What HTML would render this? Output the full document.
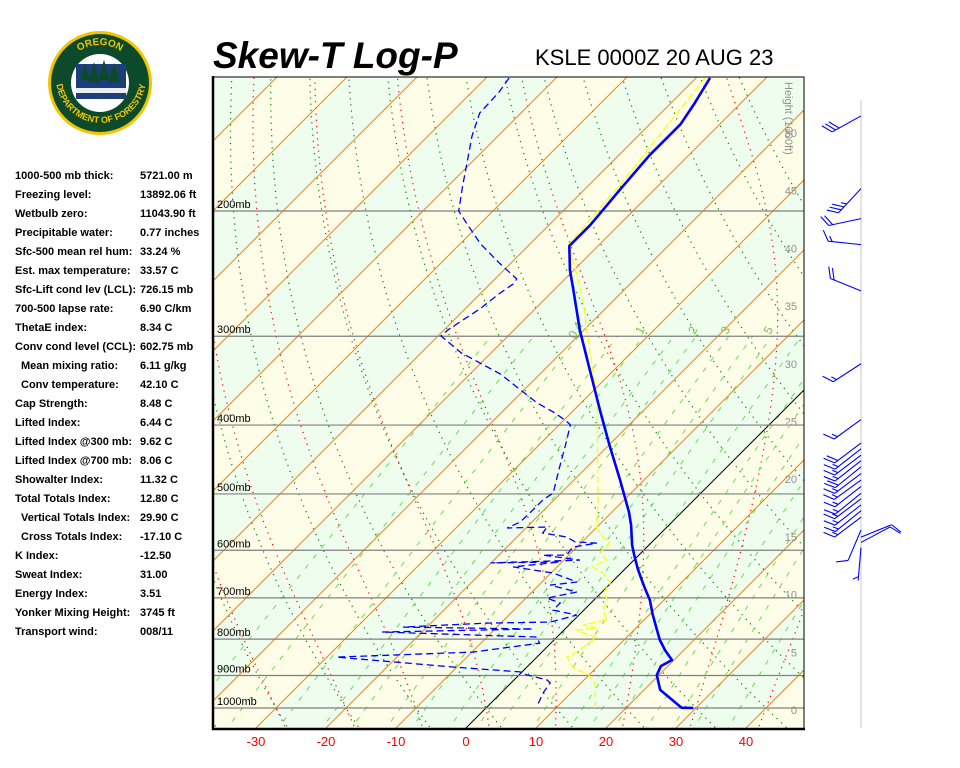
<!DOCTYPE html>
<html><head><meta charset="utf-8">
<style>
html,body{margin:0;padding:0;background:#fff;}
body{width:960px;height:768px;position:relative;overflow:hidden;font-family:"Liberation Sans",Arial,sans-serif;}
#stats{position:absolute;left:0;top:0;}
.row{position:absolute;font-size:11px;font-weight:bold;color:#000;white-space:nowrap;}
.lab{position:absolute;}
.val{position:absolute;left:140px;}
svg{position:absolute;left:0;top:0;}
</style></head>
<body>
<svg id="chart" width="960" height="768" viewBox="0 0 960 768">
  <defs><clipPath id="plotclip"><rect x="213" y="77" width="591" height="652"/></clipPath></defs>
  <g id="logo">
    <circle cx="100" cy="83" r="52" fill="#f2c500"/>
    <circle cx="100" cy="83" r="49" fill="#0d4a2c"/>
    <path id="arcTop" d="M62,83 A38,38 0 0 1 138,83" fill="none"/>
    <path id="arcBot" d="M56,78 A44,44 0 0 0 146,78" fill="none"/>
    <text font-family="Liberation Sans, sans-serif" font-weight="bold" font-size="10" fill="#f2c500"><textPath href="#arcTop" startOffset="50%" text-anchor="middle">OREGON</textPath></text>
    <text font-family="Liberation Sans, sans-serif" font-weight="bold" font-size="9" fill="#f2c500"><textPath href="#arcBot" startOffset="50%" text-anchor="middle">DEPARTMENT OF FORESTRY</textPath></text>
    <circle cx="100" cy="83" r="29" fill="#fff"/>
    <rect x="76" y="64" width="50" height="35" fill="#1d3f78"/>
    <polygon points="80,80 85,64 90,80" fill="#0d4a2c"/>
    <polygon points="88,82 94,62 100,82" fill="#0d4a2c"/>
    <polygon points="98,80 104,60 110,80" fill="#0d4a2c"/>
    <polygon points="108,82 114,63 120,82" fill="#0d4a2c"/>
    <rect x="76" y="88" width="50" height="5" fill="#e8eef4"/>
  </g>
  <text x="213" y="68" font-family="Liberation Sans, sans-serif" font-size="37" font-weight="bold" font-style="italic">Skew-T Log-P</text>
  <text x="535" y="65" font-family="Liberation Sans, sans-serif" font-size="22">KSLE 0000Z 20 AUG 23</text>
  <g id="plot" clip-path="url(#plotclip)"></g>
  <g id="overlay"></g>
</svg>
<div id="stats"></div>
<script>
// ---- data ----
var tempP = [1000,999,943,899,873,856,829,802,777,738,705,682,661,636,609,590,553,530,478,427,381,335,294,258,242,224,209,187,167,151,141,130];
var tempT = [29.6,27.9,22.3,19.7,19.0,19.7,17.3,15.1,13.3,10.4,8.0,5.9,4.0,1.7,-0.7,-2.4,-5.4,-7.6,-13.4,-19.9,-26.3,-33.4,-40.6,-47.3,-50.6,-54.1,-54.1,-54.9,-55.6,-55.6,-56.6,-58.0];
var dewP = [130,136.4,145.6,156.9,167.3,184.5,200,209.9,222.4,236.6,249.3,253.4,261.6,274.7,293.1,299.7,316.6,338.9,372.3,383.3,393.4,399.7,429.5,458.4,498.6,509.7,532,547.7,558.3,556.5,567.3,574.7,583.9,586.2,593.9,609.5,609.5,619.4,625.1,623.2,633.3,645.9,665,671.6,686.8,700.5,711.8,728.3,740.1,757.2,759.5,769.5,774.2,781.9,789.7,794.5,810.6,834.4,847.9,875.6,889.6,898.5,913,922.2,952.2,996.8];
var dewT = [-86.7,-86.1,-85.9,-83.7,-81.4,-77.9,-74.9,-71.4,-67.1,-61.7,-56.9,-56.7,-57.3,-57.9,-59.4,-59.6,-54.3,-45.7,-36.3,-32.7,-29.9,-28.4,-26,-23.9,-21.1,-21.6,-21.6,-21.7,-22.7,-17.1,-16.9,-12.9,-11,-7.7,-10.6,-10.3,-13.7,-7.7,-20.1,-10.3,-16.3,-9.7,-5,-8.4,-3.6,-7,-4.4,-4.4,-0.3,-3.1,-12,-23.4,-4.6,-25.7,-11.7,-2.9,-1.6,-9.9,-28.6,-10.6,-0.3,1.1,4.7,5.6,6,7.1];
var parcelP = [1000,922,899,876,848,829,795,784,777,772,764,752,728,705,689,667,646,633,619,605,586,575,557,510,434,369,314,267,227,223,184,130];
var parcelT = [15.6,12.0,10.0,6.6,4.3,5.1,5.7,3.1,1.9,4.4,2.0,4.7,2.7,2.0,0.3,-0.1,-2.6,-4.9,-3.9,-5.9,-5.9,-7.7,-10,-13.7,-20.9,-28.1,-36.3,-44.4,-53.3,-54.4,-55.6,-58.7];
var windP = [147,186,205,223,259,328,393,424,432,441,449,458,468,478,488,499,508,518,528,539,562,575,585,595];
var windDir = [241,223,258,276,292,237,234,233,232,233,232,231,233,234,232,231,233,232,231,233,203,68,62,185];
var windSpd = [30,35,20,15,20,15,15,20,15,15,15,20,15,15,15,15,15,15,15,15,10,10,10,5];
var isobars = [100,200,300,400,500,600,700,800,900,1000];
var xTickLabels = [-30,-20,-10,0,10,20,30,40];
var heightLabels = [0,5,10,15,20,25,30,35,40,45,50];
var mixRatios = [0.1,0.2,0.4,0.7,1,1.5,2,3,4,5,7,10,12,15,20,25,30,40];
var mixLabelled = [0.4,1,2,3,5];
var statLabels = ["1000-500 mb thick:","Freezing level:","Wetbulb zero:","Precipitable water:","Sfc-500 mean rel hum:","Est. max temperature:","Sfc-Lift cond lev (LCL):","700-500 lapse rate:","ThetaE index:","Conv cond level (CCL):","Mean mixing ratio:","Conv temperature:","Cap Strength:","Lifted Index:","Lifted Index @300 mb:","Lifted Index @700 mb:","Showalter Index:","Total Totals Index:","Vertical Totals Index:","Cross Totals Index:","K Index:","Sweat Index:","Energy Index:","Yonker Mixing Height:","Transport wind:"];
var statValues = ["5721.00 m","13892.06 ft","11043.90 ft","0.77 inches","33.24 %","33.57 C","726.15 mb","6.90 C/km","8.34 C","602.75 mb","6.11 g/kg","42.10 C","8.48 C","6.44 C","9.62 C","8.06 C","11.32 C","12.80 C","29.90 C","-17.10 C","-12.50","31.00","3.51","3745 ft","008/11"];
var statIndented = [10,11,18,19];

// ---- scales ----
function yP(p){ return 708 + 308.8*Math.log(p/1000); }
function xT(T,p){ return 466 + 7*T + (728 - yP(p)); }
function pY(y){ return 1000*Math.exp((y-708)/308.8); }
var NS="http://www.w3.org/2000/svg";
function mk(tag, attrs, parent){ var e=document.createElementNS(NS,tag); for(var k in attrs) e.setAttribute(k,attrs[k]); parent.appendChild(e); return e; }
var plot=document.getElementById('plot'), ov=document.getElementById('overlay');
var pTop=120, pBot=1080;

// background bands
for (var T=-140; T<70; T+=10){
  var k=Math.round(T/10);
  var col = (Math.abs(k)%2===1) ? "#effdef" : "#fefde8";
  var pts=[[xT(T,pTop),yP(pTop)],[xT(T+10,pTop),yP(pTop)],[xT(T+10,pBot),yP(pBot)],[xT(T,pBot),yP(pBot)]];
  var b=mk('polygon',{points:pts.map(function(q){return q.join(',');}).join(' '),fill:col},plot);
  
  
}
// dry adiabats (green dotted)
function polyPts(fn){ var s=[]; for(var p=pBot;p>=pTop;p-=10){ s.push(xT(fn(p),p).toFixed(1)+','+yP(p).toFixed(1)); } return s.join(' '); }
for (var T0=-60; T0<=120; T0+=10){
  var th=T0+273.15;
  var d=mk('polyline',{points:polyPts(function(p){return th*Math.pow(p/1000,0.286)-273.15;}),fill:'none',stroke:'#008000','stroke-width':1.2,'stroke-dasharray':'1.2,5'},plot);
  
  
}
// moist adiabats (red dotted)
function es(Tc){ return 6.112*Math.exp(17.67*Tc/(Tc+243.5)); }
function dTdp(Tc,p){ var T=Tc+273.15, e=es(Tc), rs=0.622*e/(p-e); return (287*T+2.5e6*rs)/(p*(1004+2.5e6*2.5e6*rs*0.622/(287*T*T))); }
for (var M0=-30; M0<=40; M0+=10){
  var seg=[]; var Tc=M0, p=1000;
  var down=[]; var Td=M0;
  for(var pp=1000; pp<pBot; pp+=5){ Td += dTdp(Td,pp)*5; down.push([pp+5,Td]); }
  down.reverse().forEach(function(q){ seg.push(xT(q[1],q[0]).toFixed(1)+','+yP(q[0]).toFixed(1)); });
  seg.push(xT(Tc,p).toFixed(1)+','+yP(p).toFixed(1));
  while(p>pTop){ Tc -= dTdp(Tc,p)*5; p-=5; seg.push(xT(Tc,p).toFixed(1)+','+yP(p).toFixed(1)); }
  var m=mk('polyline',{points:seg.join(' '),fill:'none',stroke:'#ff0000','stroke-width':1.2,'stroke-dasharray':'1.2,5'},plot);
  
  
}
// mixing ratio lines
function tdFromW(w,p){ var e=w*p/(622+w); var l=Math.log(e/6.112); return 243.5*l/(17.67-l); }
mixRatios.forEach(function(w){
  var s=[]; for(var p=pBot;p>=300;p-=10){ s.push(xT(tdFromW(w,p),p).toFixed(1)+','+yP(p).toFixed(1)); }
  var l=mk('polyline',{points:s.join(' '),fill:'none',stroke:'#66dd55','stroke-width':1,'stroke-dasharray':'5,8'},plot);
  
  
});
mixLabelled.forEach(function(w){
  var x=xT(tdFromW(w,300),300), y=yP(300)-4;
  var t=mk('text',{x:x,y:y,'font-size':12,fill:'#66cc44','text-anchor':'middle',transform:'rotate(-60 '+x+' '+y+')'},plot);
  t.textContent=String(w);
  
  
});
// isotherms
for (var T=-140; T<=70; T+=10){
  var il=mk('line',{x1:xT(T,pBot),y1:yP(pBot),x2:xT(T,pTop),y2:yP(pTop),stroke:(T===0?'#000':'#ff8000'),'stroke-width':1},plot);
  
  
}
// isobars
isobars.forEach(function(p){
  var y=yP(p);
  var l=mk('line',{x1:213,y1:y,x2:804,y2:y,stroke:'#808080','stroke-width':1.2},plot);
  
  
  var t=mk('text',{x:217,y:y-3,'font-size':11,fill:'#000','font-family':'Liberation Sans, sans-serif'},plot);
  t.textContent=p+'mb';
  
  
});
// series
function line(P,T){ return P.map(function(p,i){ return xT(T[i],p).toFixed(1)+','+yP(p).toFixed(1); }).join(' '); }
var par=mk('polyline',{points:line(parcelP,parcelT),fill:'none',stroke:'#ffff00','stroke-width':1.3,'stroke-dasharray':'7,3'},plot);


var dw=mk('polyline',{points:line(dewP,dewT),fill:'none',stroke:'#0000ff','stroke-width':1.3,'stroke-dasharray':'7,4'},plot);


var tp=mk('polyline',{points:line(tempP,tempT),fill:'none',stroke:'#0000ff','stroke-width':2.6,'stroke-linejoin':'round'},plot);


// height labels
heightLabels.forEach(function(h){
  var y=710-11.54*h;
  var t=mk('text',{x:797,y:y+4,'font-size':11,fill:'#909090','text-anchor':'end'},ov);
  t.textContent=String(h);
  
  
});
var ht=mk('text',{x:0,y:0,'font-size':11,fill:'#909090',transform:'translate(785,82) rotate(90)'},ov);
ht.textContent='Height (1000ft)';


// frame
var fr=mk('rect',{x:213,y:77,width:591,height:652,fill:'none',stroke:'#000','stroke-width':1},ov);


var l1=mk('line',{x1:213,y1:76,x2:213,y2:730,stroke:'#000','stroke-width':2.5},ov);


var l2=mk('line',{x1:212,y1:729,x2:805,y2:729,stroke:'#000','stroke-width':2.5},ov);


// x tick labels
xTickLabels.forEach(function(T){
  var t=mk('text',{x:xT(T,pY(728)),y:746,'font-size':13,fill:'#ff0000','text-anchor':'middle'},ov);
  t.textContent=String(T);
  
  
});
// wind barbs
var ax=mk('line',{x1:861,y1:100,x2:861,y2:728,stroke:'#e4e4e4','stroke-width':2},ov);


windP.forEach(function(p,i){
  var g=mk('g',{},ov);
  
  
  var y0=yP(p), x0=861, r=windDir[i]*Math.PI/180;
  var ux=Math.sin(r), uy=-Math.cos(r), L=33;
  var ex=x0+ux*L, ey=y0+uy*L;
  mk('line',{x1:x0,y1:y0,x2:ex,y2:ey,stroke:'#0000ff','stroke-width':1.1},g);
  var a=60*Math.PI/180, fx=ux*Math.cos(a)-uy*Math.sin(a), fy=ux*Math.sin(a)+uy*Math.cos(a);
  var s=windSpd[i], pos=0;
  while(s>=10){ var bx=ex-ux*pos, by=ey-uy*pos; mk('line',{x1:bx,y1:by,x2:bx+fx*12,y2:by+fy*12,stroke:'#0000ff','stroke-width':1.1},g); s-=10; pos+=4; }
  if(s>=5){ if(pos===0) pos=4; var bx2=ex-ux*pos, by2=ey-uy*pos; mk('line',{x1:bx2,y1:by2,x2:bx2+fx*6,y2:by2+fy*6,stroke:'#0000ff','stroke-width':1.1},g); }
});
// stats panel
var st=document.getElementById('stats');
statLabels.forEach(function(lab,i){
  var y=170+19*i;
  var r=document.createElement('div'); r.className='row'; r.style.top=y+'px'; r.style.left='0px';
  
  
  var a=document.createElement('span'); a.className='lab'; a.style.left=(statIndented.indexOf(i)>=0?21:15)+'px'; a.textContent=lab;
  
  
  var b=document.createElement('span'); b.className='val'; b.textContent=statValues[i];
  
  
  r.appendChild(a); r.appendChild(b); st.appendChild(r);
});
</script>
</body></html>
